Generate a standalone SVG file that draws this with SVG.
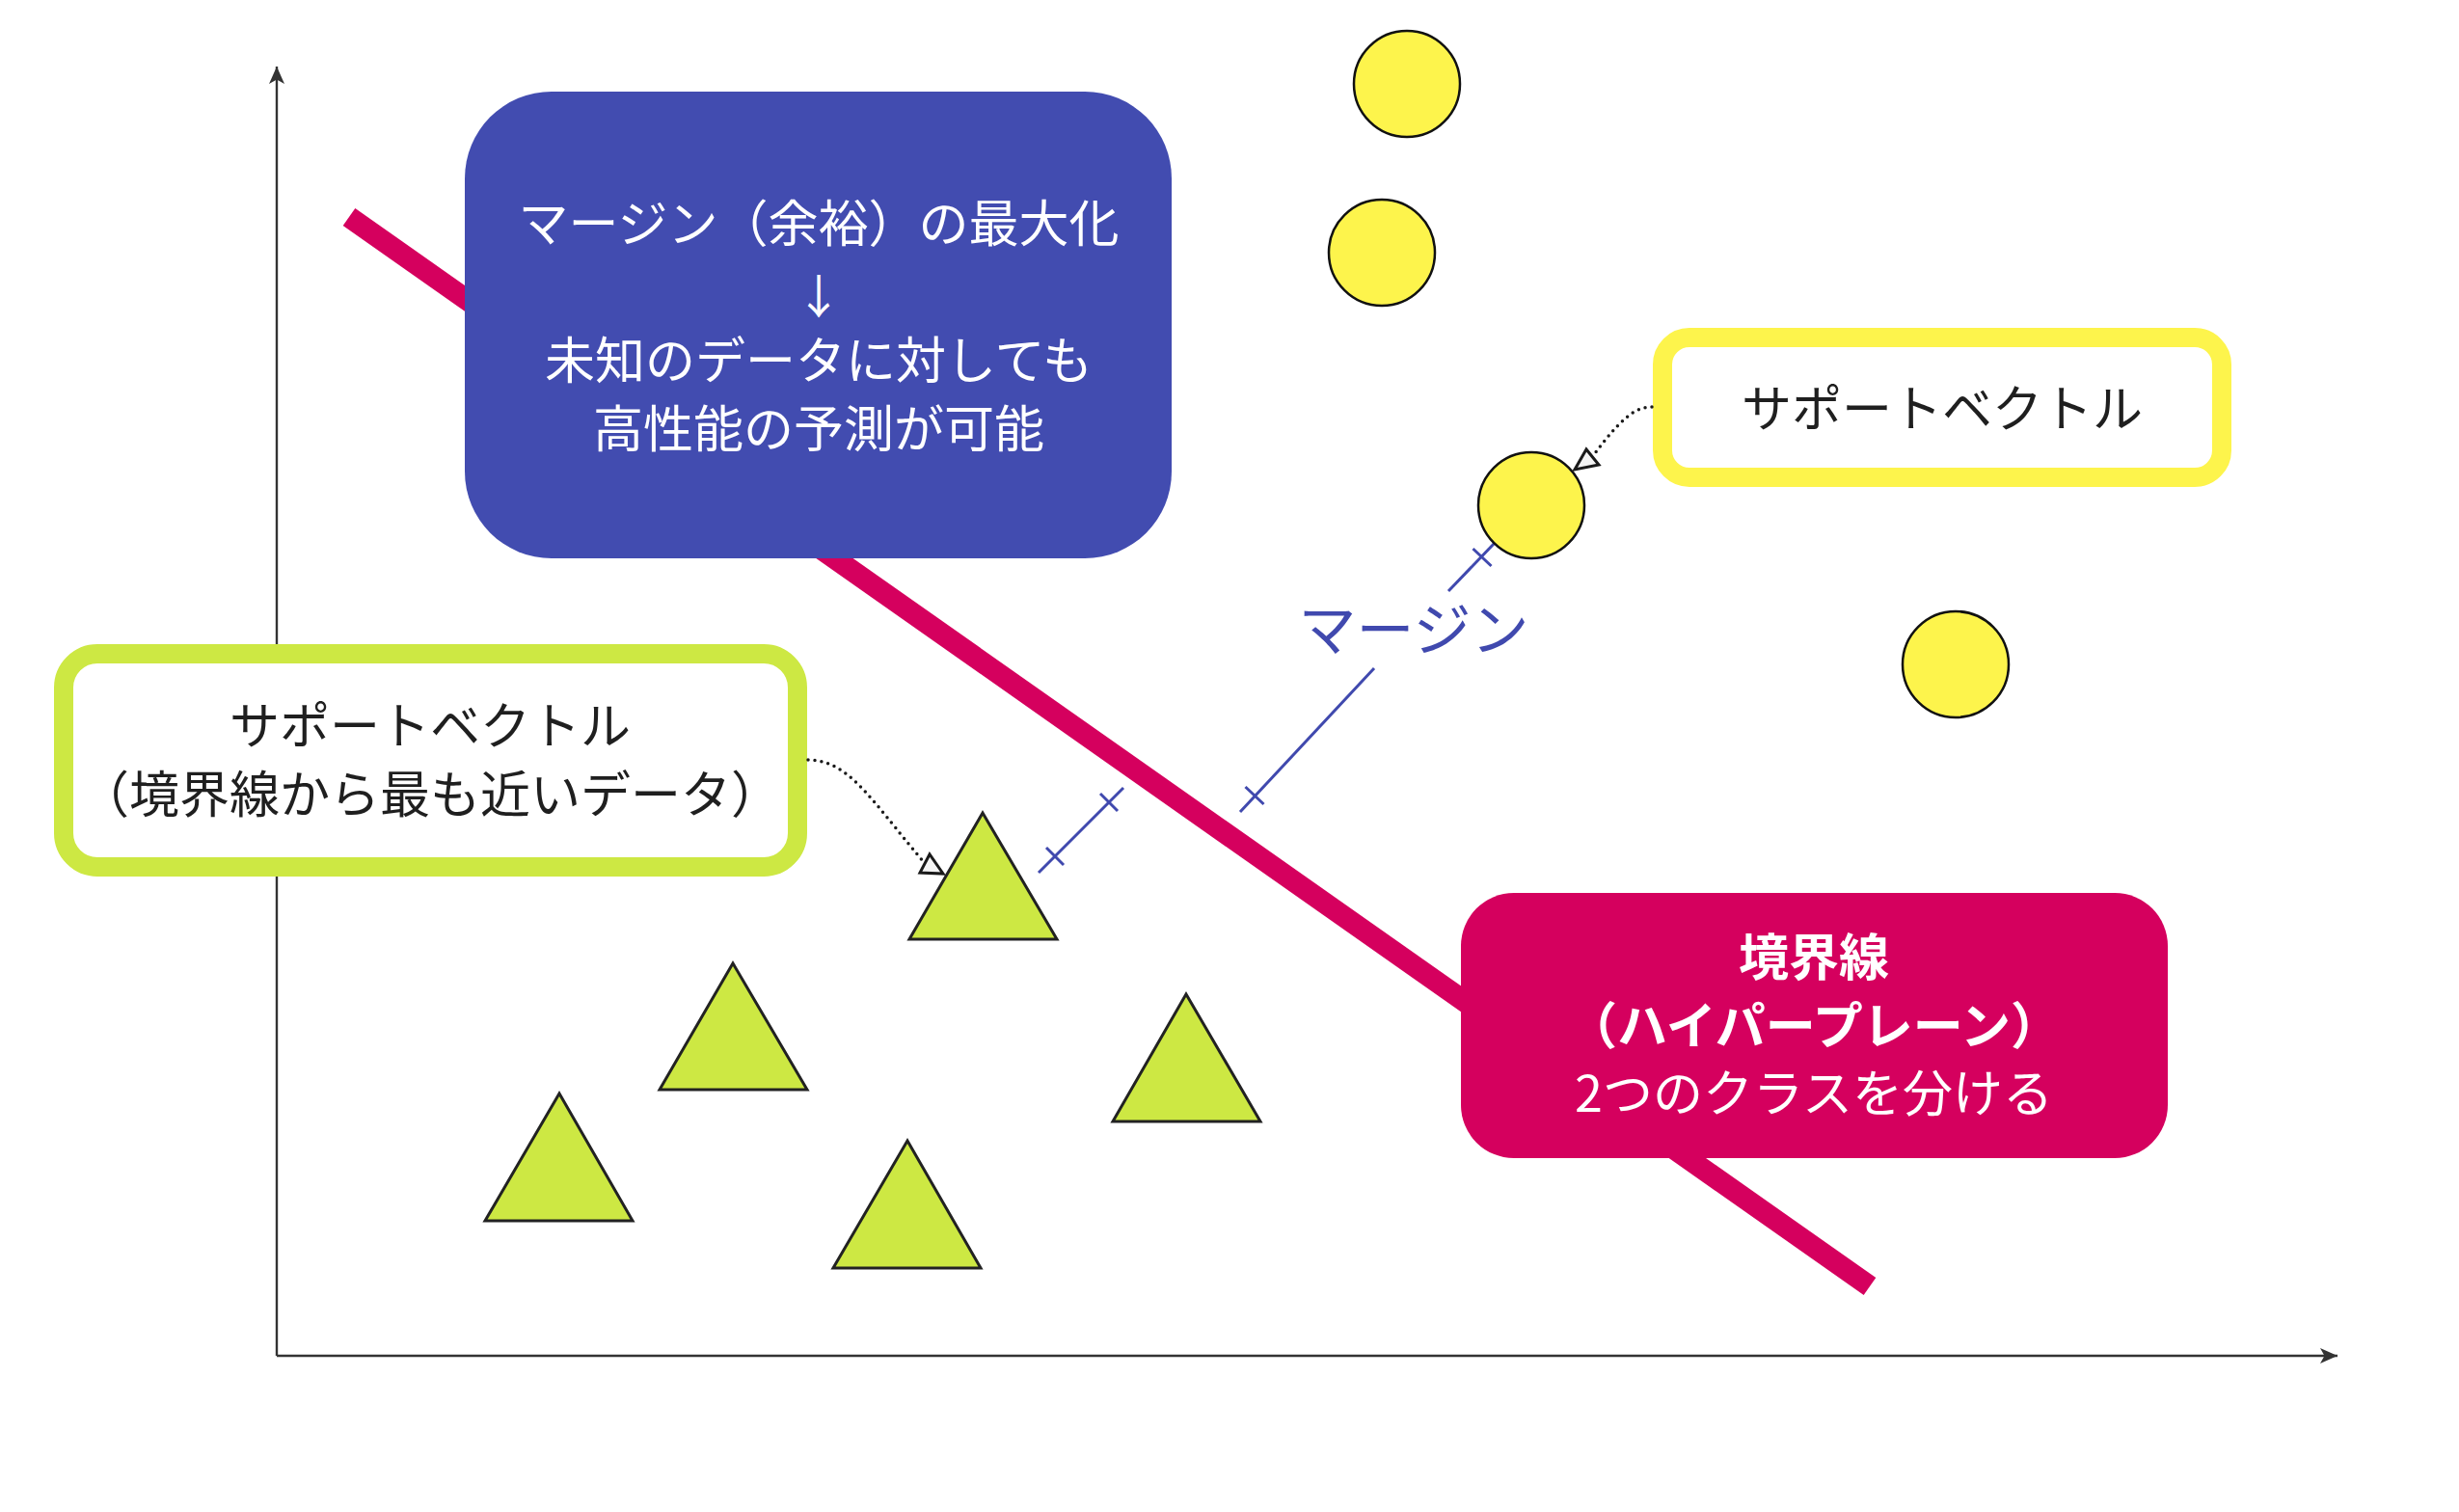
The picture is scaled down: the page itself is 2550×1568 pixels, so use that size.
<svg xmlns="http://www.w3.org/2000/svg" width="2550" height="1568" viewBox="0 0 2550 1568">
<defs>
<style>
.t{font-family:"Noto Sans CJK JP","Noto Sans",sans-serif;font-size:52px;text-anchor:middle}
.w{fill:#ffffff}
.k{fill:#1f1f1f}
.b{font-weight:bold}
.axis{stroke:#333333;stroke-width:2.4;fill:none}
.tri{fill:#CDE843;stroke:#222222;stroke-width:3;stroke-linejoin:miter}
.dot{fill:#FDF44C;stroke:#111111;stroke-width:2.5}
.mg{stroke:#4049AE;stroke-width:3;fill:none}
.dotted{stroke:#1a1a1a;stroke-width:3.5;fill:none;stroke-dasharray:0 7;stroke-linecap:round}
.head{fill:#f4f4f4;stroke:#1a1a1a;stroke-width:3;stroke-linejoin:miter}
</style>
<marker id="ax" markerUnits="userSpaceOnUse" markerWidth="22" markerHeight="22" viewBox="-19 -11 22 22" refX="0" refY="0" orient="auto">
<path d="M0,0 L-18,-8 L-13.5,0 L-18,8 Z" fill="#333333"/>
</marker>
</defs>
<rect width="2550" height="1568" fill="#ffffff"/>
<g id="axes">
<line class="axis" x1="287" y1="1406" x2="287" y2="69" marker-end="url(#ax)"/>
<line class="axis" x1="287" y1="1406" x2="2424" y2="1406" marker-end="url(#ax)"/>
</g>
<g id="hyperplane">
<line x1="362" y1="225" x2="1939" y2="1334" stroke="#D5005E" stroke-width="22"/>
</g>
<g id="margin">
<line class="mg" x1="1077" y1="905" x2="1165" y2="817"/>
<line class="mg" x1="1085" y1="879" x2="1103" y2="897"/>
<line class="mg" x1="1141" y1="823" x2="1159" y2="841"/>
<line class="mg" x1="1286" y1="842" x2="1425" y2="693"/>
<line class="mg" x1="1291.5" y1="816" x2="1310.5" y2="834"/>
<line class="mg" x1="1502" y1="613" x2="1550" y2="563"/>
<line class="mg" x1="1527.5" y1="569" x2="1546.5" y2="587"/>
<text class="t" x="1466" y="675" style="font-size:60px" fill="#4049AE">マージン</text>
</g>
<g id="blue-box">
<rect x="482" y="95" width="733" height="484" rx="90" ry="90" fill="#424CB0"/>
<text class="t w" x="849" y="251">マージン（余裕）の最大化</text>
<text class="t w" x="849" y="325" style="font-size:48px">↓</text>
<text class="t w" x="849" y="393">未知のデータに対しても</text>
<text class="t w" x="849" y="464">高性能の予測が可能</text>
</g>
<g id="magenta-box">
<rect x="1515" y="926" width="733" height="275" rx="55" ry="55" fill="#D5005E"/>
<text class="t w b" x="1881" y="1012">境界線</text>
<text class="t w b" x="1881" y="1083">（ハイパープレーン）</text>
<text class="t w" x="1881" y="1153">2つのクラスを分ける</text>
</g>
<g id="green-box">
<rect x="66" y="678" width="761" height="221" rx="35" ry="35" fill="#ffffff" stroke="#CDE843" stroke-width="20"/>
<text class="t k" x="446" y="772">サポートベクトル</text>
<text class="t k" x="446" y="843">（境界線から最も近いデータ）</text>
</g>
<g id="yellow-box">
<rect x="1724" y="350" width="580" height="145" rx="28" ry="28" fill="#ffffff" stroke="#FDF44C" stroke-width="20"/>
<text class="t k" x="2014" y="443">サポートベクトル</text>
</g>
<g id="circle-1"><circle class="dot" cx="1459" cy="87" r="55"/></g>
<g id="circle-2"><circle class="dot" cx="1433" cy="262" r="55"/></g>
<g id="circle-3"><circle class="dot" cx="1588" cy="524" r="55"/></g>
<g id="circle-4"><circle class="dot" cx="2028" cy="689" r="55"/></g>
<g id="triangle-1"><polygon class="tri" points="1019,843 943,974 1096,974"/></g>
<g id="triangle-2"><polygon class="tri" points="760,999 684,1130 837,1130"/></g>
<g id="triangle-3"><polygon class="tri" points="580,1134 503,1266 656,1266"/></g>
<g id="triangle-4"><polygon class="tri" points="941,1183 864,1315 1017,1315"/></g>
<g id="triangle-5"><polygon class="tri" points="1230,1031 1154,1163 1307,1163"/></g>
<g id="connectors">
<path class="dotted" d="M838,788 C880,789 900,825 957,893"/>
<polygon class="head" points="964,886 954,905 978,906"/>
<path class="dotted" d="M1713,422 C1695,422 1680,435 1651,474"/>
<polygon class="head" points="1645,466 1633,487 1658,482"/>
</g>
</svg>
